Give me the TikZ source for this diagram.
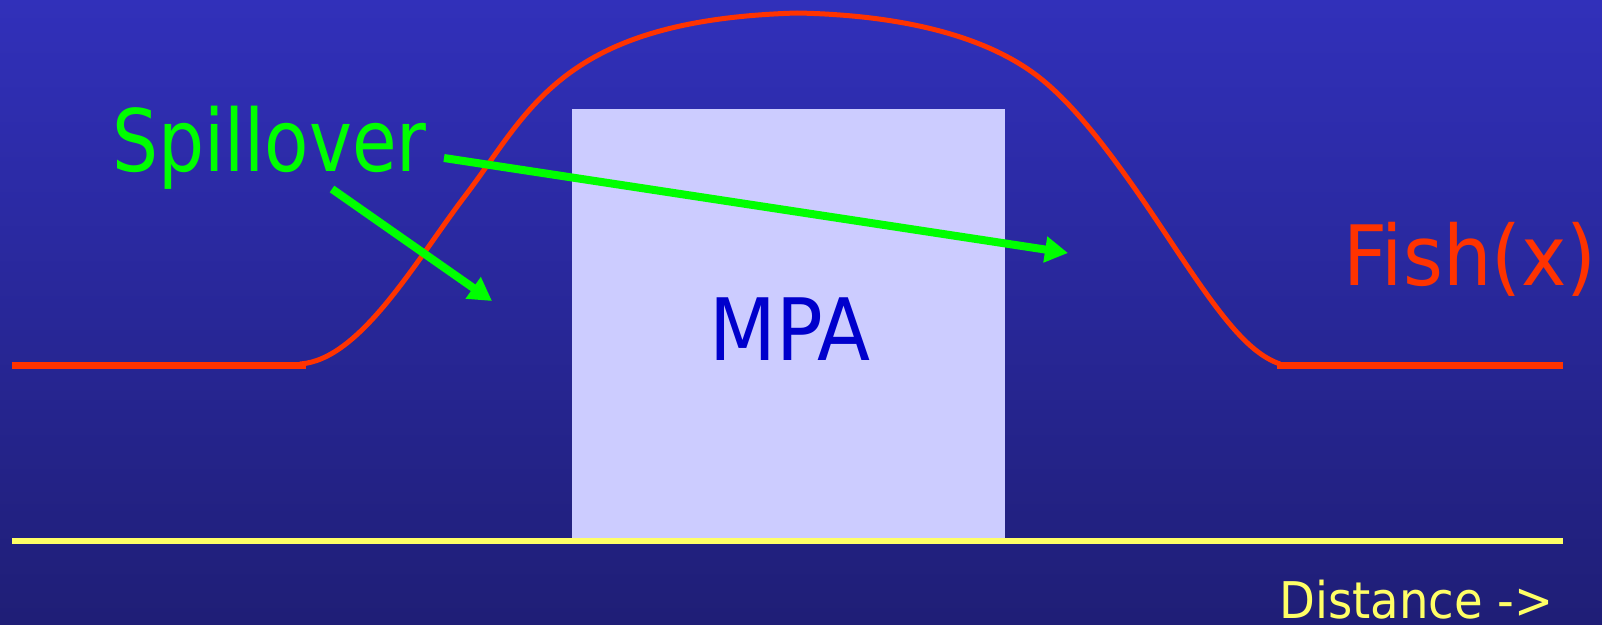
\documentclass[tikz,border=0pt]{standalone}
\usepackage{fontspec}
\setmainfont{DejaVu Sans}
\usetikzlibrary{arrows.meta}
\definecolor{bgtop}{RGB}{49,48,186}
\definecolor{bgbot}{RGB}{31,30,118}
\definecolor{fishred}{RGB}{255,51,0}
\definecolor{spillgreen}{RGB}{0,255,0}
\definecolor{mpafill}{RGB}{204,204,255}
\definecolor{mpablue}{RGB}{0,0,204}
\definecolor{axisyellow}{RGB}{255,255,102}
\tikzset{
  flatline/.style={draw=fishred, line width=7*0.02cm},
  curveline/.style={draw=fishred, line width=5*0.02cm, line join=round},
  spillarrow/.style={draw=spillgreen, line width=8*0.02cm,
    -{Triangle[length=0.46cm, width=0.5cm]}},
  label/.style={inner sep=0pt, anchor=base}
}
\begin{document}
\begin{tikzpicture}[x=0.02cm, y=-0.02cm]
\useasboundingbox (0,0) rectangle (1602,625);
\shade[top color=bgtop, bottom color=bgbot] (0,0) rectangle (1602,625);
% MPA box
\fill[mpafill] (572,109) rectangle (1005,540);
% fish curve
\draw[flatline] (12,365.5) -- (306,365.5);
\draw[flatline] (1277,365.5) -- (1563,365.5);
\draw[curveline] (300,364)
  .. controls (360,360) and (415,262) .. (465,196)
  .. controls (530,111) and (560,20) .. (797,13)
  .. controls (900,15) and (980,35) .. (1032,72)
  .. controls (1070,99) and (1110,150) .. (1165,233)
  .. controls (1215,308) and (1245,352) .. (1280,364);
% axis
\draw[draw=axisyellow, line width=6*0.02cm] (12,540.5) -- (1563,540.5);
% arrows
\coordinate (a1s) at (332,189);
\coordinate (a1e) at (492,301);
\coordinate (a2s) at (444,158);
\coordinate (a2e) at (1068,253);
\draw[spillarrow] (a1s) -- (a1e);
\draw[spillarrow] (a2s) -- (a2e);
% texts
\node[label, text=spillgreen] (spill) at (269.5,172) {\scalebox{0.843}[1]{\fontsize{49pt}{50pt}\selectfont Spillover}};
\node[label, text=mpablue] (mpa) at (790,360) {\scalebox{0.9}[1]{\fontsize{49pt}{50pt}\selectfont MPA}};
\node[label, text=fishred] (fish) at (1470,285) {\scalebox{0.92}[1]{\fontsize{47.4pt}{48pt}\selectfont Fish(x)}};
\node[label, text=axisyellow] (dist) at (1416.5,618) {\scalebox{0.92}[1]{\fontsize{28.8pt}{30pt}\selectfont Distance ->}};
\end{tikzpicture}
\end{document}
